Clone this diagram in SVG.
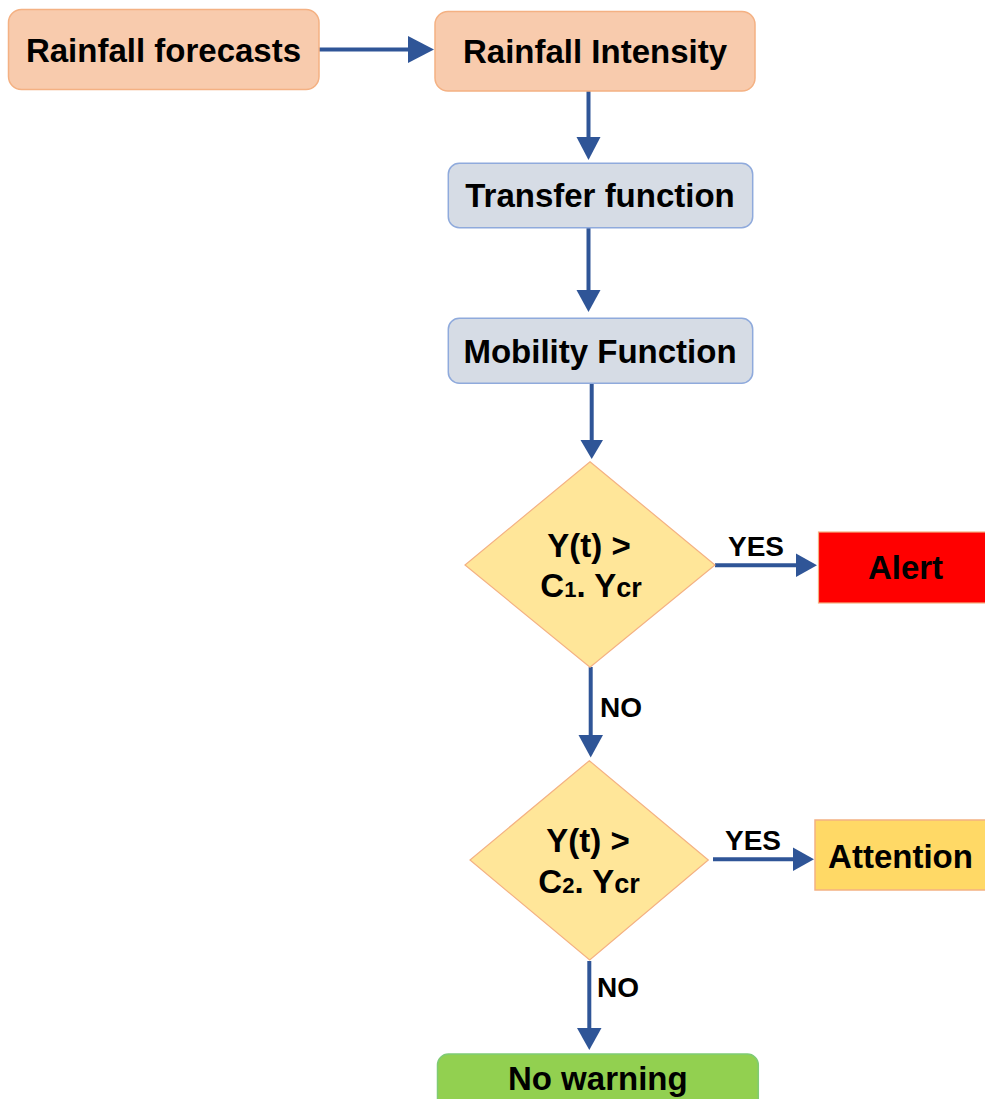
<svg xmlns="http://www.w3.org/2000/svg" width="985" height="1099" viewBox="0 0 985 1099">
<defs>
<style>
.lbl{font-family:"Liberation Sans",Arial,sans-serif;font-weight:bold;font-size:33px;fill:#000;text-anchor:middle}
.small{font-family:"Liberation Sans",Arial,sans-serif;font-weight:bold;font-size:28px;fill:#000}
.orange{fill:#F8CBAD;stroke:#F4B183;stroke-width:1.5}
.grey{fill:#D6DCE5;stroke:#8FAADC;stroke-width:1.5}
.dia{fill:#FFE699;stroke:#F4B183;stroke-width:1.2}
.conn{stroke:#2F5597;stroke-width:4;fill:none}
.head{fill:#2F5597}
</style>
</defs>
<rect width="985" height="1099" fill="#fff"/>
<g id="connectors">
<line class="conn" x1="319" y1="49.5" x2="410" y2="49.5"/>
<polygon class="head" points="408,36 434,49.5 408,63"/>
<line class="conn" x1="588.5" y1="91" x2="588.5" y2="139"/>
<polygon class="head" points="576.5,137 600.5,137 588.5,160"/>
<line class="conn" x1="588.5" y1="228" x2="588.5" y2="292"/>
<polygon class="head" points="576.5,290 600.5,290 588.5,312"/>
<line class="conn" x1="591.7" y1="383" x2="591.7" y2="442"/>
<polygon class="head" points="580.5,440 603,440 591.7,459"/>
<line class="conn" x1="715" y1="565.3" x2="798" y2="565.3"/>
<polygon class="head" points="796,553.5 817,565.3 796,577"/>
<text class="small" x="728" y="556">YES</text>
<line class="conn" x1="590.7" y1="667" x2="590.7" y2="737"/>
<polygon class="head" points="578.5,735 603,735 590.7,757.5"/>
<text class="small" x="600" y="717">NO</text>
<line class="conn" x1="713" y1="859.3" x2="795" y2="859.3"/>
<polygon class="head" points="793,847.5 814,859.3 793,871"/>
<text class="small" x="725" y="850">YES</text>
<line class="conn" x1="589.3" y1="961" x2="589.3" y2="1030"/>
<polygon class="head" points="577,1028 601.5,1028 589.3,1050"/>
<text class="small" x="597" y="997">NO</text>
</g>
<g id="rainfall-forecasts">
<rect class="orange" x="8.5" y="9.5" width="310.5" height="80" rx="13"/>
<text class="lbl" x="163.5" y="61.5">Rainfall forecasts</text>
</g>
<g id="rainfall-intensity">
<rect class="orange" x="435" y="11.5" width="320" height="79.5" rx="13"/>
<text class="lbl" x="595" y="63.3">Rainfall Intensity</text>
</g>
<g id="transfer-function">
<rect class="grey" x="448.3" y="163.3" width="304.4" height="64.4" rx="11"/>
<text class="lbl" x="600" y="206.7">Transfer function</text>
</g>
<g id="mobility-function">
<rect class="grey" x="448.3" y="318.3" width="304.4" height="65" rx="11"/>
<text class="lbl" x="600" y="363.3">Mobility Function</text>
</g>
<g id="decision-1">
<polygon class="dia" points="590,461.7 715,565 590,667.3 465,565"/>
<text class="lbl" x="589" y="556.7">Y(t) &gt;</text>
<text class="lbl" x="591" y="596.7">C<tspan font-size="22">1</tspan>. Y<tspan font-size="27">cr</tspan></text>
</g>
<g id="alert">
<rect x="818.5" y="532" width="175" height="71" fill="#FF0000" stroke="#F4B183" stroke-width="1.2"/>
<text class="lbl" x="905.5" y="579.3">Alert</text>
</g>
<g id="decision-2">
<polygon class="dia" points="589.3,760.7 708.3,860 589.7,960 470,860"/>
<text class="lbl" x="588" y="852">Y(t) &gt;</text>
<text class="lbl" x="589" y="893.3">C<tspan font-size="22">2</tspan>. Y<tspan font-size="27">cr</tspan></text>
</g>
<g id="attention">
<rect x="815" y="820" width="180" height="70" fill="#FFD966" stroke="#F4B183" stroke-width="1.5"/>
<text class="lbl" x="900.5" y="867.7">Attention</text>
</g>
<g id="no-warning">
<rect x="437.5" y="1054" width="320.8" height="60" rx="11" fill="#92D050" stroke="#7FCB74" stroke-width="1.5"/>
<text class="lbl" x="597.8" y="1090">No warning</text>
</g>
</svg>
